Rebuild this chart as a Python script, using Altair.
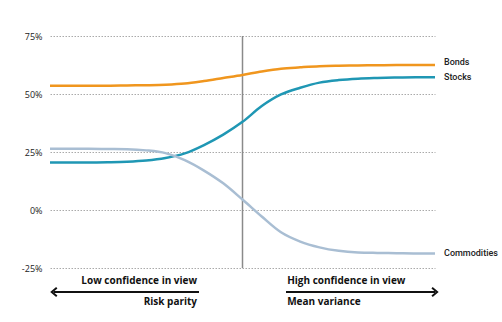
import altair as alt
import pandas as pd

x_vals = [0, 5, 10, 15, 20, 25, 30, 35, 40, 45, 50, 55, 60, 65, 70, 75, 80, 85, 90, 95, 100]
bonds = [53.6, 53.6, 53.6, 53.6, 53.7, 53.8, 54.0, 54.5, 55.6, 56.9, 58.2, 59.7, 60.9, 61.5, 62.0, 62.2, 62.3, 62.4, 62.5, 62.5, 62.5]
stocks = [20.5, 20.5, 20.5, 20.6, 20.8, 21.3, 22.4, 24.4, 28.0, 32.5, 38.0, 44.8, 49.8, 52.7, 54.9, 56.0, 56.6, 56.9, 57.1, 57.2, 57.2]
commodities = [26.4, 26.4, 26.4, 26.3, 26.2, 25.7, 24.5, 21.5, 17.0, 11.5, 4.5, -2.8, -9.6, -13.6, -16.1, -17.6, -18.3, -18.5, -18.6, -18.7, -18.7]

series_names = ["Bonds", "Stocks", "Commodities"]
series_colors = ["#f0961e", "#1f97b4", "#a9bed3"]
y_ticks = [-25, 0, 25, 50, 75]
divider_x = [50]

left_texts = ["Low confidence in view", "Risk parity"]
right_texts = ["High confidence in view", "Mean variance"]
left_arrow = [1, 38.7]
right_arrow = [61.3, 100]

rows = []
for name, vals in zip(series_names, [bonds, stocks, commodities]):
    for xv, v in zip(x_vals, vals):
        rows.append({"x": xv, "value": v, "series": name})
df = pd.DataFrame(rows)
end_df = df[df["x"] == x_vals[-1]]

FONT = "Open Sans"
LBL_FONT = "Roboto"
xs = alt.Scale(domain=[0, 100], nice=False, zero=False)
ys = alt.Scale(domain=[-25, 75], nice=False, zero=False)
cs = alt.Scale(domain=series_names, range=series_colors)

y_axis = alt.Axis(
    values=y_ticks, labelExpr="datum.value + '%'", domain=False, ticks=False,
    grid=True, gridDash=[1.5, 1.5], gridColor="#aaaaaa", gridWidth=1,
    labelPadding=8, labelFontSize=9, labelColor="#222", labelFont=FONT, title=None)

X = lambda f="x:Q": alt.X(f, scale=xs, axis=None)
Y = lambda f="value:Q": alt.Y(f, scale=ys, axis=y_axis)

divider = alt.Chart(pd.DataFrame({"x": divider_x})).mark_rule(color="#8a8a8a", strokeWidth=1.5).encode(
    x=X()
)

lines = alt.Chart(df).mark_line(strokeWidth=2.5, interpolate="monotone").encode(
    x=X(),
    y=Y(),
    color=alt.Color("series:N", scale=cs, legend=None),
)

end_main = alt.Chart(end_df[end_df["series"] != "Bonds"]).mark_text(
    align="left", baseline="middle", dx=9, fontSize=9, font=LBL_FONT,
    fontWeight=500, color="#222"
).encode(x=X(), y=Y(), text="series:N")

end_bonds = alt.Chart(end_df[end_df["series"] == "Bonds"]).mark_text(
    align="left", baseline="middle", dx=9, dy=-3, fontSize=9, font=LBL_FONT,
    fontWeight=500, color="#222"
).encode(x=X(), y=Y(), text="series:N")

left_df = pd.DataFrame({"x": [left_arrow[1] - 0.5] * 2, "text": left_texts, "row": [0, 1]})
right_df = pd.DataFrame({"x": [right_arrow[0] + 0.3] * 2, "text": right_texts, "row": [0, 1]})

def ann(dframe, align):
    top = alt.Chart(dframe[dframe["row"] == 0]).mark_text(
        align=align, baseline="middle", fontSize=10, fontWeight="bold", font=FONT, color="#111"
    ).encode(x=X(), y=alt.value(245), text="text:N")
    bot = alt.Chart(dframe[dframe["row"] == 1]).mark_text(
        align=align, baseline="middle", fontSize=10, fontWeight="bold", font=FONT, color="#111"
    ).encode(x=X(), y=alt.value(266), text="text:N")
    return top + bot

arrows_df = pd.DataFrame({"x": [left_arrow[0], right_arrow[0]], "x2": [left_arrow[1], right_arrow[1]]})
arrows = alt.Chart(arrows_df).mark_rule(color="#111", strokeWidth=2).encode(
    x=X(), x2="x2:Q", y=alt.value(256)
)
head_l = alt.Chart(pd.DataFrame({"x": [left_arrow[0]]})).mark_point(
    shape="M0.7,-1L-0.5,0L0.7,1", filled=False, size=70, strokeWidth=2, color="#111", opacity=1
).encode(x=X(), y=alt.value(256))
head_r = alt.Chart(pd.DataFrame({"x": [right_arrow[1]]})).mark_point(
    shape="M-0.7,-1L0.5,0L-0.7,1", filled=False, size=70, strokeWidth=2, color="#111", opacity=1
).encode(x=X(), y=alt.value(256))

chart = alt.layer(
    divider, lines, end_main, end_bonds, ann(left_df, "right"), ann(right_df, "left"), arrows, head_l, head_r
).properties(
    width=385, height=232,
    background="white",
    autosize=alt.AutoSizeParams(type="none"),
    padding={"left": 50, "top": 36, "right": 67, "bottom": 54},
).configure_view(strokeWidth=0, stroke="transparent")

chart.save("out.html", embed_options={"renderer": "svg", "actions": False})
